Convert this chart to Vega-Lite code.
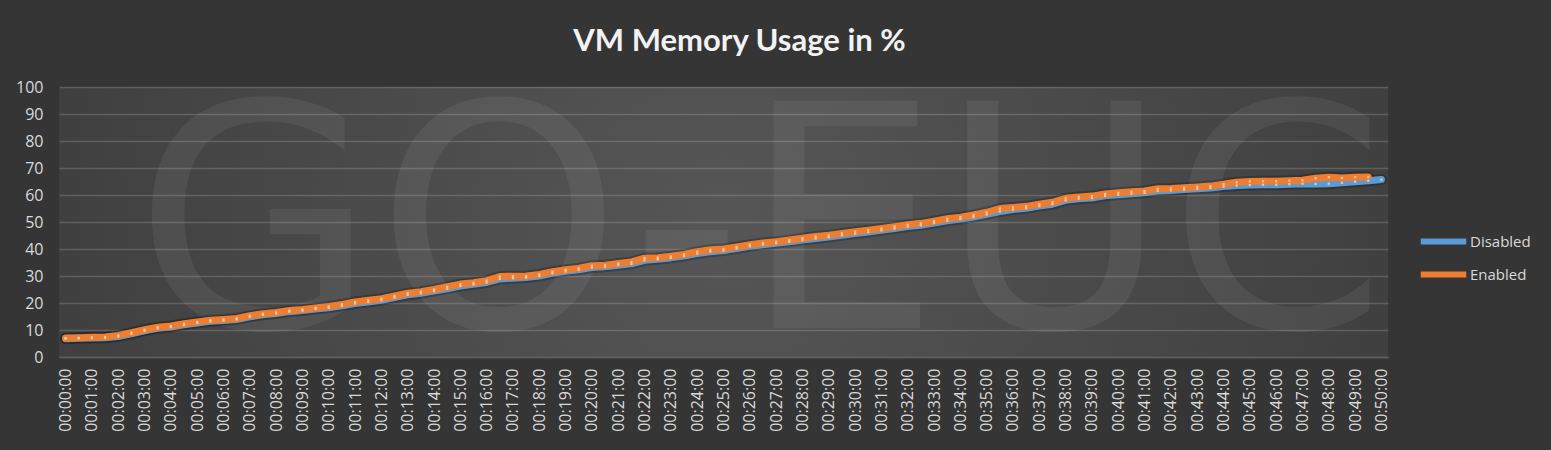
{
  "$schema": "https://vega.github.io/schema/vega-lite/v6.json",
  "width": 1329,
  "height": 270,
  "autosize": {"type": "none"},
  "padding": {"left": 59, "top": 87, "right": 163, "bottom": 93},
  "background": "#353535",
  "config": {
    "view": {
      "stroke": null,
      "fill": {"gradient": "radial", "x1": 0.5, "y1": 0.5, "r1": 0, "x2": 0.5, "y2": 0.5, "r2": 0.75,
        "stops": [{"offset": 0, "color": "#565656"}, {"offset": 1, "color": "#353535"}]}
    },
    "font": "Lato"
  },
  "title": {
    "text": "VM Memory Usage in %",
    "font": "Lato",
    "fontSize": 31,
    "fontWeight": "bold",
    "color": "#f2f2f2",
    "anchor": "middle",
    "baseline": "alphabetic",
    "dx": 16,
    "offset": -3
  },
  "datasets": {
    "mem": [
      {"t":0,"s":"Disabled","v":6.8},{"t":0.5,"s":"Disabled","v":6.9},{"t":1,"s":"Disabled","v":7.0},{"t":1.5,"s":"Disabled","v":7.1},{"t":2,"s":"Disabled","v":7.6},{"t":2.5,"s":"Disabled","v":8.6},{"t":3,"s":"Disabled","v":9.7},{"t":3.5,"s":"Disabled","v":10.6},{"t":4,"s":"Disabled","v":11.1},{"t":4.5,"s":"Disabled","v":11.9},
      {"t":5,"s":"Disabled","v":12.6},{"t":5.5,"s":"Disabled","v":13.2},{"t":6,"s":"Disabled","v":13.5},{"t":6.5,"s":"Disabled","v":13.9},{"t":7,"s":"Disabled","v":14.9},{"t":7.5,"s":"Disabled","v":15.6},{"t":8,"s":"Disabled","v":16.1},{"t":8.5,"s":"Disabled","v":16.8},{"t":9,"s":"Disabled","v":17.2},{"t":9.5,"s":"Disabled","v":17.8},
      {"t":10,"s":"Disabled","v":18.2},{"t":10.5,"s":"Disabled","v":19.0},{"t":11,"s":"Disabled","v":19.8},{"t":11.5,"s":"Disabled","v":20.4},{"t":12,"s":"Disabled","v":21.0},{"t":12.5,"s":"Disabled","v":22.0},{"t":13,"s":"Disabled","v":23.0},{"t":13.5,"s":"Disabled","v":23.6},{"t":14,"s":"Disabled","v":24.4},{"t":14.5,"s":"Disabled","v":25.3},
      {"t":15,"s":"Disabled","v":26.3},{"t":15.5,"s":"Disabled","v":26.9},{"t":16,"s":"Disabled","v":27.6},{"t":16.5,"s":"Disabled","v":28.9},{"t":17,"s":"Disabled","v":29.2},{"t":17.5,"s":"Disabled","v":29.4},{"t":18,"s":"Disabled","v":30.0},{"t":18.5,"s":"Disabled","v":31.0},{"t":19,"s":"Disabled","v":31.7},{"t":19.5,"s":"Disabled","v":32.3},
      {"t":20,"s":"Disabled","v":33.1},{"t":20.5,"s":"Disabled","v":33.4},{"t":21,"s":"Disabled","v":34.0},{"t":21.5,"s":"Disabled","v":34.5},{"t":22,"s":"Disabled","v":35.8},{"t":22.5,"s":"Disabled","v":36.2},{"t":23,"s":"Disabled","v":36.7},{"t":23.5,"s":"Disabled","v":37.4},{"t":24,"s":"Disabled","v":38.3},{"t":24.5,"s":"Disabled","v":39.0},
      {"t":25,"s":"Disabled","v":39.4},{"t":25.5,"s":"Disabled","v":40.2},{"t":26,"s":"Disabled","v":41.0},{"t":26.5,"s":"Disabled","v":41.6},{"t":27,"s":"Disabled","v":42.1},{"t":27.5,"s":"Disabled","v":42.7},{"t":28,"s":"Disabled","v":43.3},{"t":28.5,"s":"Disabled","v":43.9},{"t":29,"s":"Disabled","v":44.4},{"t":29.5,"s":"Disabled","v":45.1},
      {"t":30,"s":"Disabled","v":45.7},{"t":30.5,"s":"Disabled","v":46.3},{"t":31,"s":"Disabled","v":46.9},{"t":31.5,"s":"Disabled","v":47.6},{"t":32,"s":"Disabled","v":48.3},{"t":32.5,"s":"Disabled","v":48.8},{"t":33,"s":"Disabled","v":49.6},{"t":33.5,"s":"Disabled","v":50.4},{"t":34,"s":"Disabled","v":51.1},{"t":34.5,"s":"Disabled","v":51.8},
      {"t":35,"s":"Disabled","v":52.8},{"t":35.5,"s":"Disabled","v":53.9},{"t":36,"s":"Disabled","v":54.6},{"t":36.5,"s":"Disabled","v":55.1},{"t":37,"s":"Disabled","v":55.9},{"t":37.5,"s":"Disabled","v":56.6},{"t":38,"s":"Disabled","v":58.0},{"t":38.5,"s":"Disabled","v":58.6},{"t":39,"s":"Disabled","v":58.9},{"t":39.5,"s":"Disabled","v":59.7},
      {"t":40,"s":"Disabled","v":60.1},{"t":40.5,"s":"Disabled","v":60.5},{"t":41,"s":"Disabled","v":60.8},{"t":41.5,"s":"Disabled","v":61.5},{"t":42,"s":"Disabled","v":61.7},{"t":42.5,"s":"Disabled","v":62.0},{"t":43,"s":"Disabled","v":62.3},{"t":43.5,"s":"Disabled","v":62.6},{"t":44,"s":"Disabled","v":63.1},{"t":44.5,"s":"Disabled","v":63.5},
      {"t":45,"s":"Disabled","v":63.7},{"t":45.5,"s":"Disabled","v":63.8},{"t":46,"s":"Disabled","v":63.8},{"t":46.5,"s":"Disabled","v":64.0},{"t":47,"s":"Disabled","v":64.2},{"t":47.5,"s":"Disabled","v":64.1},{"t":48,"s":"Disabled","v":64.2},{"t":48.5,"s":"Disabled","v":64.5},{"t":49,"s":"Disabled","v":64.9},{"t":49.5,"s":"Disabled","v":65.3},{"t":50,"s":"Disabled","v":65.7},
      {"t":0,"s":"Enabled","v":7.0},{"t":0.5,"s":"Enabled","v":7.1},{"t":1,"s":"Enabled","v":7.3},{"t":1.5,"s":"Enabled","v":7.4},{"t":2,"s":"Enabled","v":8.0},{"t":2.5,"s":"Enabled","v":9.0},{"t":3,"s":"Enabled","v":10.1},{"t":3.5,"s":"Enabled","v":11.0},{"t":4,"s":"Enabled","v":11.5},{"t":4.5,"s":"Enabled","v":12.3},
      {"t":5,"s":"Enabled","v":13.0},{"t":5.5,"s":"Enabled","v":13.6},{"t":6,"s":"Enabled","v":13.9},{"t":6.5,"s":"Enabled","v":14.3},{"t":7,"s":"Enabled","v":15.3},{"t":7.5,"s":"Enabled","v":16.0},{"t":8,"s":"Enabled","v":16.5},{"t":8.5,"s":"Enabled","v":17.2},{"t":9,"s":"Enabled","v":17.6},{"t":9.5,"s":"Enabled","v":18.2},
      {"t":10,"s":"Enabled","v":18.7},{"t":10.5,"s":"Enabled","v":19.5},{"t":11,"s":"Enabled","v":20.4},{"t":11.5,"s":"Enabled","v":21.0},{"t":12,"s":"Enabled","v":21.6},{"t":12.5,"s":"Enabled","v":22.6},{"t":13,"s":"Enabled","v":23.6},{"t":13.5,"s":"Enabled","v":24.2},{"t":14,"s":"Enabled","v":25.0},{"t":14.5,"s":"Enabled","v":26.0},
      {"t":15,"s":"Enabled","v":27.0},{"t":15.5,"s":"Enabled","v":27.5},{"t":16,"s":"Enabled","v":28.3},{"t":16.5,"s":"Enabled","v":29.8},{"t":17,"s":"Enabled","v":29.9},{"t":17.5,"s":"Enabled","v":30.0},{"t":18,"s":"Enabled","v":30.6},{"t":18.5,"s":"Enabled","v":31.6},{"t":19,"s":"Enabled","v":32.3},{"t":19.5,"s":"Enabled","v":32.9},
      {"t":20,"s":"Enabled","v":33.8},{"t":20.5,"s":"Enabled","v":34.0},{"t":21,"s":"Enabled","v":34.6},{"t":21.5,"s":"Enabled","v":35.2},{"t":22,"s":"Enabled","v":36.6},{"t":22.5,"s":"Enabled","v":36.8},{"t":23,"s":"Enabled","v":37.3},{"t":23.5,"s":"Enabled","v":38.0},{"t":24,"s":"Enabled","v":39.0},{"t":24.5,"s":"Enabled","v":39.7},
      {"t":25,"s":"Enabled","v":40.0},{"t":25.5,"s":"Enabled","v":40.8},{"t":26,"s":"Enabled","v":41.6},{"t":26.5,"s":"Enabled","v":42.2},{"t":27,"s":"Enabled","v":42.7},{"t":27.5,"s":"Enabled","v":43.3},{"t":28,"s":"Enabled","v":44.0},{"t":28.5,"s":"Enabled","v":44.6},{"t":29,"s":"Enabled","v":45.1},{"t":29.5,"s":"Enabled","v":45.8},
      {"t":30,"s":"Enabled","v":46.4},{"t":30.5,"s":"Enabled","v":47.0},{"t":31,"s":"Enabled","v":47.6},{"t":31.5,"s":"Enabled","v":48.3},{"t":32,"s":"Enabled","v":49.0},{"t":32.5,"s":"Enabled","v":49.5},{"t":33,"s":"Enabled","v":50.3},{"t":33.5,"s":"Enabled","v":51.2},{"t":34,"s":"Enabled","v":51.8},{"t":34.5,"s":"Enabled","v":52.6},
      {"t":35,"s":"Enabled","v":53.6},{"t":35.5,"s":"Enabled","v":55.0},{"t":36,"s":"Enabled","v":55.4},{"t":36.5,"s":"Enabled","v":55.8},{"t":37,"s":"Enabled","v":56.6},{"t":37.5,"s":"Enabled","v":57.3},{"t":38,"s":"Enabled","v":58.8},{"t":38.5,"s":"Enabled","v":59.3},{"t":39,"s":"Enabled","v":59.6},{"t":39.5,"s":"Enabled","v":60.4},
      {"t":40,"s":"Enabled","v":60.8},{"t":40.5,"s":"Enabled","v":61.2},{"t":41,"s":"Enabled","v":61.5},{"t":41.5,"s":"Enabled","v":62.3},{"t":42,"s":"Enabled","v":62.4},{"t":42.5,"s":"Enabled","v":62.7},{"t":43,"s":"Enabled","v":63.0},{"t":43.5,"s":"Enabled","v":63.3},{"t":44,"s":"Enabled","v":64.0},{"t":44.5,"s":"Enabled","v":64.7},
      {"t":45,"s":"Enabled","v":65.0},{"t":45.5,"s":"Enabled","v":65.1},{"t":46,"s":"Enabled","v":65.1},{"t":46.5,"s":"Enabled","v":65.3},{"t":47,"s":"Enabled","v":65.5},{"t":47.5,"s":"Enabled","v":66.2},{"t":48,"s":"Enabled","v":66.6},{"t":48.5,"s":"Enabled","v":66.3},{"t":49,"s":"Enabled","v":66.6},{"t":49.5,"s":"Enabled","v":66.7}
    ],
    "mark": [{"label": "GO-EUC", "t": 26.4, "v": 45.6}]
  },
  "encoding": {
    "x": {
      "field": "t", "type": "quantitative",
      "scale": {"domain": [-0.25, 50.25], "nice": false, "zero": false},
      "axis": {
        "title": null,
        "values": [0,1,2,3,4,5,6,7,8,9,10,11,12,13,14,15,16,17,18,19,20,21,22,23,24,25,26,27,28,29,30,31,32,33,34,35,36,37,38,39,40,41,42,43,44,45,46,47,48,49,50],
        "labelExpr": "'00:' + (datum.value < 10 ? '0' : '') + datum.value + ':00'",
        "labelAngle": -90,
        "labelAlign": "right",
        "labelBaseline": "middle",
        "labelFontSize": 16,
        "labelColor": "#d9d9d9",
        "labelPadding": 11,
        "labelOverlap": false,
        "labelFont": "Open Sans",
        "ticks": false,
        "grid": false,
        "domain": true,
        "domainColor": "#5e5e5e",
        "domainWidth": 1.3
      }
    },
    "y": {
      "field": "v", "type": "quantitative",
      "scale": {"domain": [0, 100], "nice": false},
      "axis": {
        "title": null,
        "values": [0,10,20,30,40,50,60,70,80,90,100],
        "labelFontSize": 16,
        "labelColor": "#d9d9d9",
        "labelFont": "Open Sans",
        "labelPadding": 16,
        "labelOverlap": false,
        "labelFlush": false,
        "ticks": false,
        "domain": false,
        "gridColor": "#ffffff",
        "gridOpacity": 0.16,
        "gridWidth": 1.3
      }
    }
  },
  "layer": [
    {
      "data": {"name": "mark"},
      "mark": {"type": "text", "font": "DejaVu Sans", "fontSize": 312, "fontWeight": "normal", "color": "#ffffff", "opacity": 0.06, "align": "center", "baseline": "middle", "clip": true},
      "encoding": {
        "text": {"field": "label"}
      }
    },
    {
      "data": {"name": "mem"},
      "mark": {"type": "line", "strokeWidth": 11, "color": "#000000", "opacity": 0.22, "strokeCap": "round", "strokeJoin": "round"},
      "encoding": {
        "detail": {"field": "s"}
      }
    },
    {
      "data": {"name": "mem"},
      "mark": {"type": "line", "strokeWidth": 7, "strokeCap": "round", "strokeJoin": "round"},
      "encoding": {
        "color": {
          "field": "s", "type": "nominal",
          "scale": {"domain": ["Disabled", "Enabled"], "range": ["#5B9BD5", "#ED7D31"]},
          "legend": {
            "title": null,
            "orient": "none",
            "legendX": 1364,
            "legendY": 134,
            "symbolType": "M-1.3,0H1.3",
            "symbolSize": 1225,
            "symbolStrokeWidth": 6,
            "labelFontSize": 15,
            "labelColor": "#d9d9d9",
            "labelFont": "Open Sans",
            "labelOffset": 6,
            "rowPadding": 0
          }
        }
      }
    },
    {
      "data": {"name": "mem"},
      "mark": {"type": "point", "shape": "square", "filled": true, "size": 5, "color": "#f8d5bd", "opacity": 0.8},
      "encoding": {
        "detail": {"field": "s"}
      }
    }
  ]
}
